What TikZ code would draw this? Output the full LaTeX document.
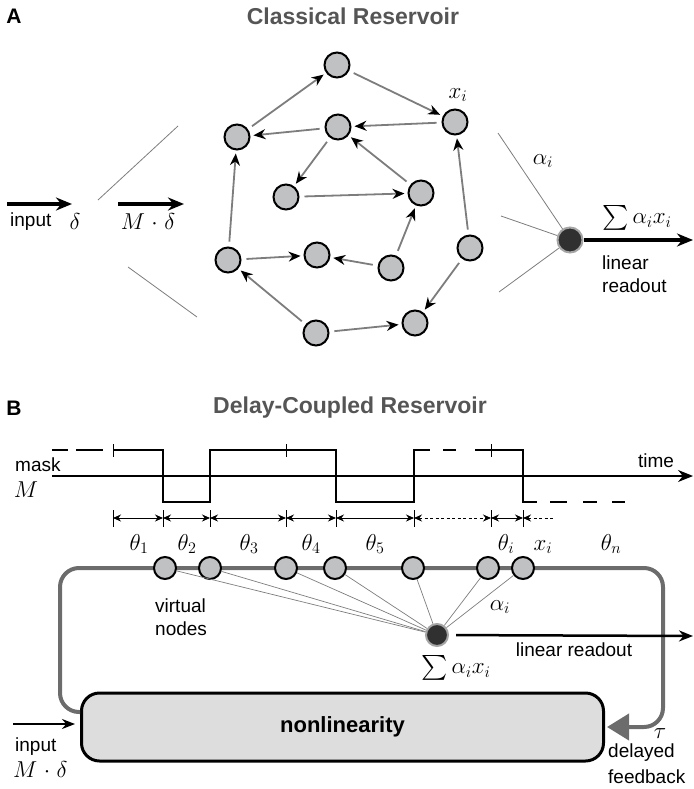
\RequirePackage{fix-cm}
\documentclass[tikz,border=0pt]{standalone}
\usepackage{exscale}
\usepackage[no-math]{fontspec}
\setmainfont{Liberation Sans}
\usetikzlibrary{arrows.meta}
\definecolor{nodegray}{RGB}{192,193,195}
\definecolor{edgegray}{RGB}{125,125,125}
\definecolor{titlegray}{RGB}{85,85,85}
\definecolor{loopgray}{RGB}{108,108,108}
\definecolor{boxgray}{RGB}{221,221,221}
\definecolor{darknode}{RGB}{48,48,48}
\definecolor{rimgray}{RGB}{165,165,165}
\begin{document}
\begin{tikzpicture}[x=1pt,y=-1pt,
  res/.style={circle,draw=black,fill=nodegray,line width=2pt,minimum size=25pt,inner sep=0pt},
  vnode/.style={res,minimum size=22pt},
  readout/.style={circle,draw=rimgray,fill=darknode,line width=2pt,minimum size=25pt,inner sep=0pt},
  conn/.style={draw=edgegray,line width=1.8pt,-{Stealth[length=12pt,width=10pt,color=black]},shorten >=3pt,shorten <=5pt},
  fanline/.style={draw=edgegray,line width=0.8pt},
  txt/.style={font=\fontsize{19}{22}\selectfont,inner sep=0pt},
  mth/.style={font=\fontsize{23}{27}\selectfont,inner sep=0pt},
  ttl/.style={font=\fontsize{23}{27}\selectfont\bfseries,text=titlegray,inner sep=0pt},
  panel/.style={font=\fontsize{21}{25}\selectfont\bfseries,inner sep=0pt},
  bigarrow/.style={line width=3.2pt,-{Stealth[length=16pt,width=13pt]}},
  maskline/.style={line width=2.3pt,line join=miter},
  tickline/.style={line width=0.8pt},
  dimarrow/.style={line width=0.9pt,{Stealth[length=8pt,width=7pt]}-{Stealth[length=8pt,width=7pt]}},
  dotdim/.style={dimarrow,dash pattern=on 3pt off 2.5pt},
  loopline/.style={draw=loopgray,line width=4pt}
]
\useasboundingbox (0,0) rectangle (693,789);

% ---------------- Panel A ----------------
\node[panel] (lA) at (14,16) {A};
\node[ttl] (tA) at (353,16) {Classical Reservoir};

\node[res] (n1) at (337,65) {};
\node[res] (n2) at (237,137) {};
\node[res] (n3) at (338,127) {};
\node[res] (xi) at (455,122) {};
\node[res] (n5) at (286,197) {};
\node[res] (n6) at (421,193) {};
\node[res] (n7) at (228,260) {};
\node[res] (n8) at (317,255) {};
\node[res] (n9) at (391,268) {};
\node[res] (n10) at (470,248) {};
\node[res] (n11) at (316,333) {};
\node[res] (n12) at (415,323) {};

\draw[conn] (n2) -- (n1);
\draw[conn] (n1) -- (xi);
\draw[conn] (xi) -- (n3);
\draw[conn] (n3) -- (n2);
\draw[conn] (n3) -- (n5);
\draw[conn] (n5) -- (n6);
\draw[conn] (n6) -- (n3);
\draw[conn] (n9) -- (n6);
\draw[conn] (n9) -- (n8);
\draw[conn] (n7) -- (n8);
\draw[conn] (n7) -- (n2);
\draw[conn] (n11) -- (n7);
\draw[conn] (n11) -- (n12);
\draw[conn] (n10) -- (n12);
\draw[conn] (n10) -- (xi);

\node[mth] (lxiA) at (458,95) {$x_i$};

% input side
\coordinate (inA0) at (7,204);
\coordinate (inA1) at (72,204);
\coordinate (mA0) at (118,204);
\coordinate (mA1) at (184,204);
\draw[bigarrow] (inA0) -- (inA1);
\draw[bigarrow] (mA0) -- (mA1);
\node[txt,anchor=west] (linA) at (10,222) {input};
\node[mth] (ldA) at (75,222) {$\delta$};
\node[mth] (lMdA) at (148,222) {$M\mkern1mu\cdot\mkern1mu\delta$};
\coordinate (fa0) at (98,200);
\coordinate (fa1) at (178,126);
\coordinate (fb0) at (128,267);
\coordinate (fb1) at (197,317);
\draw[fanline] (fa0) -- (fa1);
\draw[fanline] (fb0) -- (fb1);

% readout
\node[readout] (roA) at (570,240) {};
\coordinate (ra1) at (498,133);
\coordinate (ra2) at (501,216);
\coordinate (ra3) at (499,292);
\draw[fanline] (ra1) -- (roA);
\draw[fanline] (ra2) -- (roA);
\draw[fanline] (ra3) -- (roA);
\coordinate (outA) at (693,240);
\draw[bigarrow,line width=3.5pt] (roA) -- (outA);
\node[mth] (laA) at (543,161) {$\alpha_i$};
\node[mth] (lsA) at (637,218) {$\sum\alpha_i x_i$};
\node[txt,anchor=west] (lrA1) at (602,263) {linear};
\node[txt,anchor=west] (lrA2) at (602,286) {readout};

% ---------------- Panel B ----------------
\node[panel] (lB) at (14,408) {B};
\node[ttl] (tB) at (350,408) {Delay-Coupled Reservoir};

% time axis
\coordinate (ax0) at (52,476);
\coordinate (ax1) at (693,476);
\draw[line width=1.2pt,-{Stealth[length=15pt,width=12pt]}] (ax0) -- (ax1);
\node[txt] (ltime) at (656,461) {time};
\node[txt,anchor=west] (lmask) at (15,465) {mask};
\node[mth] (lM) at (26,490) {$M$};

% mask signal
\draw[maskline] (52,450) -- (68,450);
\draw[maskline] (76,450) -- (103,450);
\draw[maskline] (113,450) -- (163,450) -- (163,502) -- (210,502) -- (210,450)
   -- (336,450) -- (336,502) -- (414,502) -- (414,450) -- (430,450);
\draw[maskline] (443,450) -- (456,450);
\draw[maskline] (475,450) -- (523,450) -- (523,502) -- (537,502);
\draw[maskline] (550,502) -- (567,502);
\draw[maskline] (583,502) -- (597,502);
\draw[maskline] (612,502) -- (625,502);
\foreach \x in {113,286,491} \draw[tickline] (\x,444) -- (\x,457);

% theta intervals
\foreach \x in {113,163,210,286,336,414,491,523} \draw[tickline] (\x,510) -- (\x,527);
\draw[dimarrow] (113,518) -- (163,518);
\draw[dimarrow] (163,518) -- (210,518);
\draw[dimarrow] (210,518) -- (286,518);
\draw[dimarrow] (286,518) -- (336,518);
\draw[dimarrow] (336,518) -- (414,518);
\draw[dotdim] (414,518) -- (491,518);
\draw[dimarrow] (491,518) -- (523,518);
\draw[line width=0.9pt,dash pattern=on 3pt off 2.5pt,{Stealth[length=8pt,width=7pt]}-] (523,518) -- (553,518);

\node[mth] (t1) at (139,544) {$\theta_1$};
\node[mth] (t2) at (187,544) {$\theta_2$};
\node[mth] (t3) at (249,544) {$\theta_3$};
\node[mth] (t4) at (311,544) {$\theta_4$};
\node[mth] (t5) at (375,544) {$\theta_5$};
\node[mth] (ti) at (506,544) {$\theta_i$};
\node[mth] (lxiB) at (543,547) {$x_i$};
\node[mth] (tn) at (611,544) {$\theta_n$};

% nonlinearity box
\node[draw,line width=3pt,fill=boxgray,rounded corners=18pt,minimum width=522pt,minimum height=68pt,
      font=\fontsize{22}{26}\selectfont\bfseries] (box) at (342.5,727) {nonlinearity};

% delay loop
\draw[loopline,rounded corners=19pt,-{Triangle[length=22pt,width=26pt]},shorten >=2pt]
  ([yshift=15pt]box.west) -- (60,712) -- (60,568) -- (663,568) -- (663,727) -- (box.east);

% virtual nodes
\node[vnode] (v1) at (165,568) {};
\node[vnode] (v2) at (210,568) {};
\node[vnode] (v3) at (286,568) {};
\node[vnode] (v4) at (335,568) {};
\node[vnode] (v5) at (413,568) {};
\node[vnode] (v6) at (488,568) {};
\node[vnode] (v7) at (523,568) {};

\node[readout,minimum size=22pt] (roB) at (437,635) {};
\foreach \v in {v1,v2,v3,v4,v5,v6,v7} \draw[fanline,line width=0.7pt] (\v) -- (roB);
\coordinate (outB) at (693,636);
\draw[line width=2.5pt,-{Stealth[length=14pt,width=11pt]},shorten <=7pt] (roB) -- (outB);

\node[txt,anchor=west] (lv1) at (155,606) {virtual};
\node[txt,anchor=west] (lv2) at (155,629) {nodes};
\node[mth] (laB) at (500,607) {$\alpha_i$};
\node[txt] (lrB) at (574,650) {linear readout};
\node[mth] (lsB) at (456,668) {$\sum\alpha_i x_i$};
\node[mth] (ltau) at (660,734) {$\tau$};
\node[txt,anchor=west] (ld1) at (608,753) {delayed};
\node[txt,anchor=west] (ld2) at (608,777) {feedback};

% input B
\coordinate (inB) at (13,724);
\draw[line width=2pt,-{Stealth[length=13pt,width=10pt]},shorten >=5pt] (inB) -- ([yshift=3pt]box.west);
\node[txt,anchor=west] (linB) at (15,747) {input};
\node[mth,anchor=west] (lMdB) at (13,770) {$M\mkern1mu\cdot\mkern1mu\delta$};
\end{tikzpicture}
\end{document}
